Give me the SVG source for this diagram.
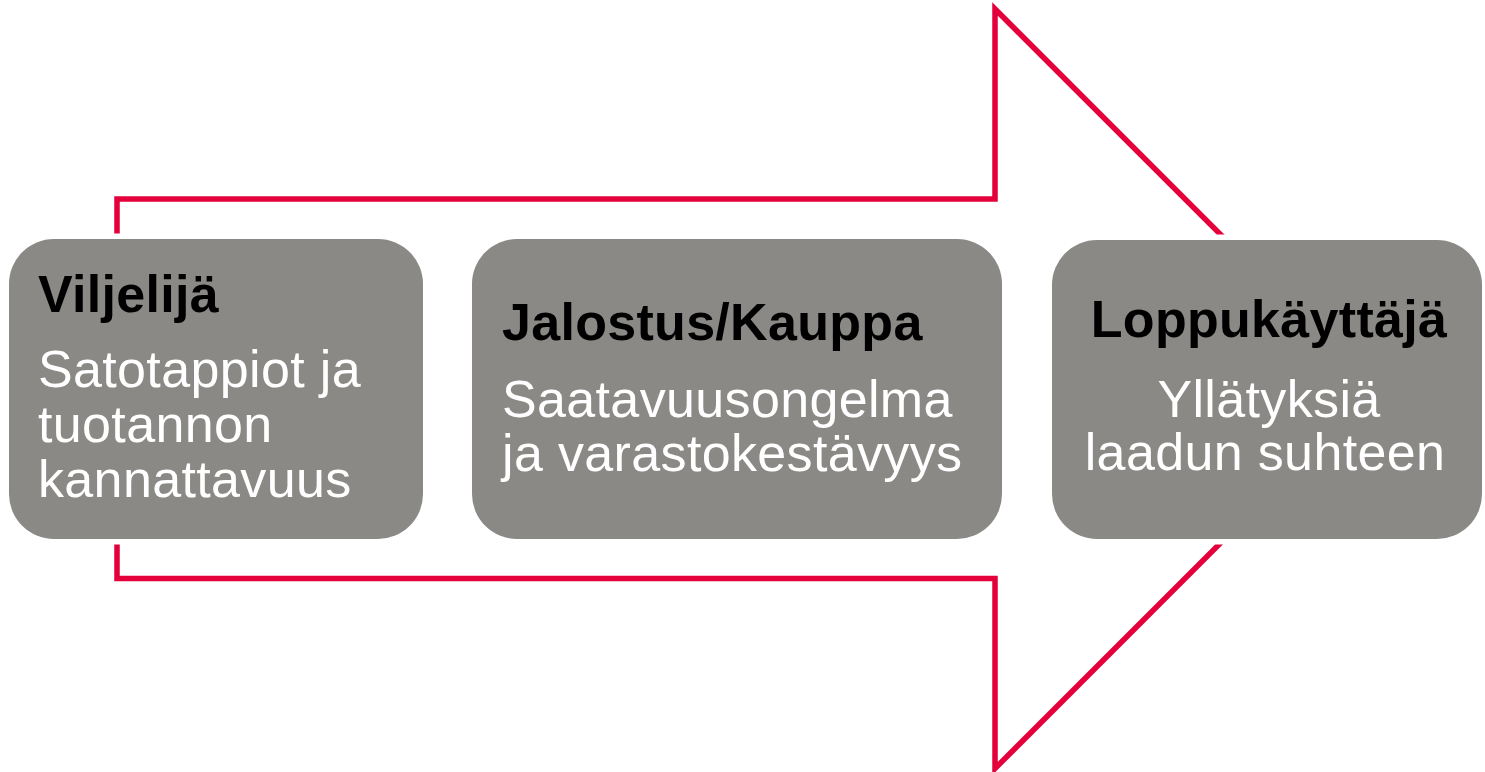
<svg xmlns="http://www.w3.org/2000/svg" width="1485" height="772" viewBox="0 0 1485 772">
<style>
.box{fill:#8a8985;stroke:#ffffff;stroke-width:11;paint-order:stroke}
.arrow{fill:none;stroke:#e4003b;stroke-width:5.5;stroke-linejoin:miter;stroke-miterlimit:10}
.t{font-family:"Liberation Sans",Arial,sans-serif;font-size:52px}
.h{font-weight:bold;fill:#000000;letter-spacing:0.3px}
.b{fill:#ffffff;letter-spacing:0.35px}
</style>
<rect width="1485" height="772" fill="#ffffff"/>
<g id="connectors">
<path class="arrow" d="M117,578.5 L117,199 L995,199 L995,9 L1374.75,388.75 L995,768.5 L995,578.5 Z"/>
</g>
<g id="node-viljelija">
<rect class="box" x="9" y="239" width="414" height="300" rx="45" ry="45"/>
<text class="t h" x="38" y="312">Viljelijä</text>
<text class="t b" x="38" y="387">Satotappiot ja</text>
<text class="t b" x="38" y="442">tuotannon</text>
<text class="t b" x="38" y="497">kannattavuus</text>
</g>
<g id="node-jalostus">
<rect class="box" x="472" y="239" width="530" height="300" rx="45" ry="45"/>
<text class="t h" x="502" y="340" letter-spacing="0.6">Jalostus/Kauppa</text>
<text class="t b" x="502" y="417">Saatavuusongelma</text>
<text class="t b" x="502" y="471">ja varastokestävyys</text>
</g>
<g id="node-loppukayttaja">
<rect class="box" x="1052" y="240" width="430" height="299" rx="45" ry="45"/>
<text class="t h" x="1269" y="337" text-anchor="middle">Loppukäyttäjä</text>
<text class="t b" x="1269" y="417" text-anchor="middle">Yllätyksiä</text>
<text class="t b" x="1265" y="470" text-anchor="middle">laadun suhteen</text>
</g>
</svg>
